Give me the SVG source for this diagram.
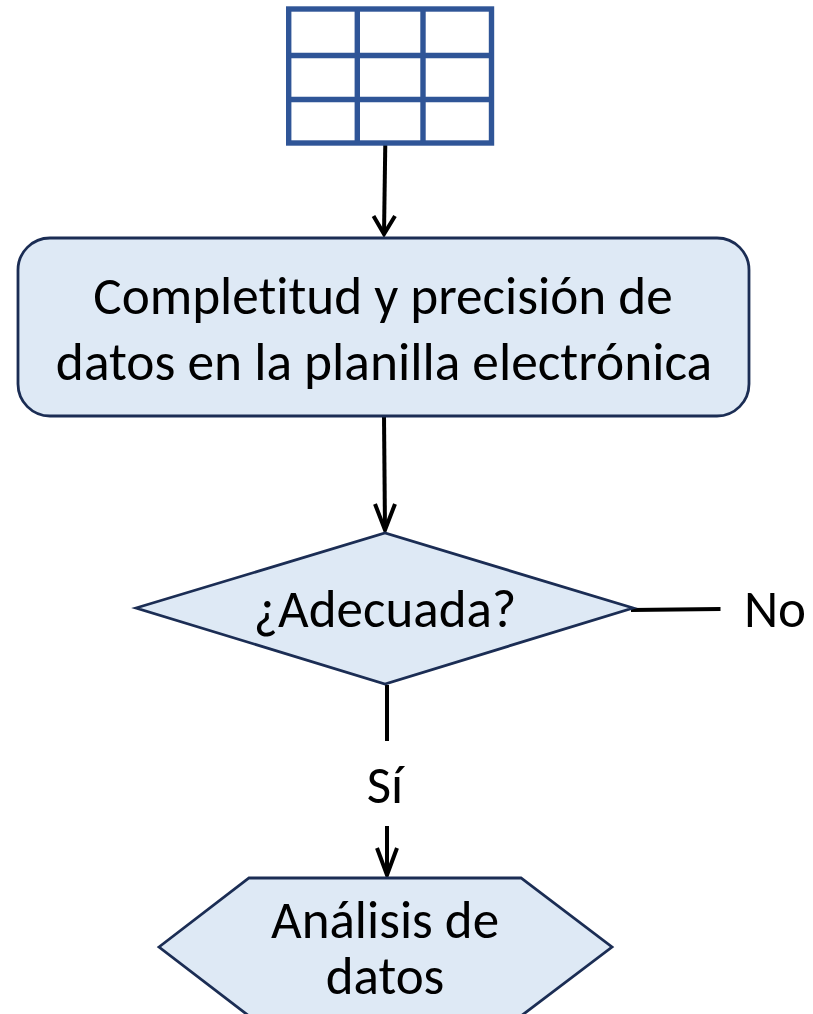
<svg xmlns="http://www.w3.org/2000/svg" width="813" height="1014" viewBox="0 0 813 1014">
<style>
.s{fill:#dee9f5;stroke:#1b2d54;stroke-width:2.8;stroke-linejoin:miter}
.t{font-family:"Carlito","Liberation Sans",sans-serif;font-size:53px;fill:#000;text-anchor:middle;font-variant-ligatures:none}
.c{fill:none;stroke:#000;stroke-width:4}
.g{fill:none;stroke:#2f5597;stroke-width:5.4}
</style>
<rect width="813" height="1014" fill="#fff"/>
<g id="connectors">
<path class="c" d="M385.300 143 L384 234"/><path class="c" d="M373.500 216 L384 234 L395 216"/>
<path class="c" d="M384 416 L385 530"/><path class="c" d="M375 504 L385 530 L395 504"/>
<path class="c" d="M631 610 L720.500 609"/>
<path class="c" d="M387 685 L387 741"/>
<path class="c" d="M387 826 L387 875"/><path class="c" d="M377 848 L387 875 L397 848"/>
</g>
<g id="grid"><rect class="g" x="288.700" y="9" width="202.800" height="134"/><path class="g" d="M357.300 9V143M423 9V143M288.700 55.500H491.500M288.700 99.500H491.500"/></g>
<g id="process"><rect class="s" x="18" y="238" width="731" height="178" rx="32"/><text class="t" x="383" y="314" style="font-size:53.2px">Completitud y precisión de</text><text class="t" x="384" y="380" style="font-size:53.4px">datos en la planilla electrónica</text></g>
<g id="decision"><polygon class="s" points="136,608 385,533 633,608 385,684"/><text class="t" x="385" y="627">¿Adecuada?</text></g>
<g id="no"><text class="t" x="775" y="627">No</text></g>
<g id="si"><text class="t" x="385" y="803">Sí</text></g>
<g id="analysis"><polygon class="s" points="159,947 249,878 521,878 612,947 521,1016 249,1016"/><text class="t" x="385" y="938">Análisis de</text><text class="t" x="385" y="994">datos</text></g>
</svg>
